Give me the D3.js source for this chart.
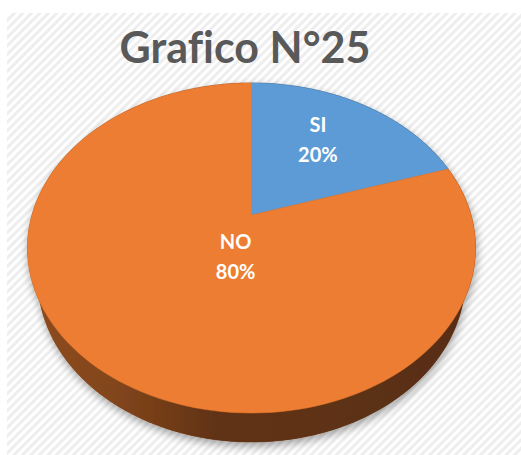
<!DOCTYPE html>
<html>
<head>
<meta charset="utf-8">
<script src="https://cdn.jsdelivr.net/npm/d3@7"></script>
<style>
  html, body { margin: 0; padding: 0; background: #ffffff; }
  svg { display: block; }
  text { font-variant-ligatures: none; font-feature-settings: "liga" 0; }
</style>
</head>
<body>
<div id="chart"></div>
<script>
// ---- data ----
const title = "Grafico N°25";
const categories = ["SI", "NO"];
const values = [20, 80];
const percentLabels = ["20%", "80%"];
const colors = ["#5B9BD5", "#ED7D31"];

// ---- layout ----
const W = 521, H = 455;
const plot = { x: 7, y: 13 };
const cx = 251.5, cy = 215;         // projected pie centre
const persp = { f: 759.5, s: 0.7217, c: 0.692, D: 3.46, t: 0.222 };
// label anchor placement (angle shift in degrees, radial fraction)
const labelPlace = [{ shift: -3.9, r: 0.63 }, { shift: -20.4, r: 0.256 }];

function proj(u, w, h) {
  const yc = w * persp.s - h * persp.c;
  const d = persp.D - w * persp.c - h * persp.s;
  return [cx + persp.f * u / d, cy + persp.f * yc / d];
}
function rim(theta, h, r = 1) { return proj(r * Math.sin(theta), -r * Math.cos(theta), h); }

const svg = d3.select("#chart").append("svg").attr("width", W).attr("height", H);
const defs = svg.append("defs");

// striped background
const pat = defs.append("pattern").attr("id", "stripes")
  .attr("patternUnits", "userSpaceOnUse").attr("width", 6).attr("height", 6)
  .attr("patternTransform", "rotate(45)");
pat.append("rect").attr("width", 6).attr("height", 6).attr("fill", "#ffffff");
pat.append("rect").attr("width", 3).attr("height", 6).attr("fill", "#eeeeee");
svg.append("rect").attr("x", plot.x).attr("y", plot.y)
  .attr("width", W - plot.x).attr("height", H - plot.y).attr("fill", "url(#stripes)");

// shadow
const filt = defs.append("filter").attr("id", "shadow")
  .attr("x", "-10%").attr("y", "-10%").attr("width", "120%").attr("height", "130%");
filt.append("feDropShadow").attr("dx", 1).attr("dy", 4).attr("stdDeviation", 4)
  .attr("flood-color", "#000").attr("flood-opacity", 0.35);

const pie = d3.pie().sort(null).value(d => d)(values);
const line = d3.line();
const N = 180;

// side gradients per slice
pie.forEach((p, i) => {
  const base = d3.color(colors[i]);
  const g = defs.append("linearGradient").attr("id", "side" + i)
    .attr("gradientUnits", "userSpaceOnUse")
    .attr("x1", 27).attr("x2", 476).attr("y1", 0).attr("y2", 0);
  const mult = k => { const c = d3.rgb(base); return d3.rgb(c.r * k, c.g * k, c.b * k).formatHex(); };
  g.append("stop").attr("offset", "0%").attr("stop-color", mult(0.6));
  g.append("stop").attr("offset", "20%").attr("stop-color", mult(0.55));
  g.append("stop").attr("offset", "42%").attr("stop-color", mult(0.41));
  g.append("stop").attr("offset", "100%").attr("stop-color", mult(0.37));
});

const pieG = svg.append("g").attr("filter", "url(#shadow)");
const t = persp.t;

// bottom disc and sides
pie.forEach((p, i) => {
  const n = Math.max(2, Math.ceil(N * (p.endAngle - p.startAngle) / (2 * Math.PI)));
  const angs = d3.range(n + 1).map(k => p.startAngle + (p.endAngle - p.startAngle) * k / n);
  pieG.append("path").attr("d", line(angs.map(a => rim(a, -t)).concat([proj(0, 0, -t)])) + "Z")
    .attr("fill", `url(#side${i})`);
  const side = angs.map(a => rim(a, 0)).concat(angs.slice().reverse().map(a => rim(a, -t)));
  pieG.append("path").attr("d", line(side) + "Z").attr("fill", `url(#side${i})`)
    .attr("stroke", `url(#side${i})`).attr("stroke-width", 0.5);
});

// top faces
pie.forEach((p, i) => {
  const n = Math.max(2, Math.ceil(N * (p.endAngle - p.startAngle) / (2 * Math.PI)));
  const angs = d3.range(n + 1).map(k => p.startAngle + (p.endAngle - p.startAngle) * k / n);
  const pts = [proj(0, 0, 0)].concat(angs.map(a => rim(a, 0)));
  pieG.append("path").attr("d", line(pts) + "Z").attr("fill", colors[i])
    .attr("stroke", colors[i]).attr("stroke-width", 0.5);
});

// title
svg.append("text").attr("x", 245).attr("y", 63).attr("text-anchor", "middle")
  .attr("font-family", "Lato, 'Open Sans', sans-serif").attr("font-weight", "bold")
  .attr("font-size", 43).attr("fill", "#595959").text(title);

// labels
pie.forEach((p, i) => {
  const mid = (p.startAngle + p.endAngle) / 2 + labelPlace[i].shift * Math.PI / 180;
  const [lx, ly] = rim(mid, 0, labelPlace[i].r);
  const tx = svg.append("text").attr("text-anchor", "middle")
    .attr("font-family", "Lato, 'Open Sans', sans-serif").attr("font-weight", "bold")
    .attr("font-size", 20).attr("fill", "#ffffff");
  tx.append("tspan").attr("x", lx).attr("y", ly - 7).text(categories[i]);
  tx.append("tspan").attr("x", lx).attr("y", ly + 23).text(percentLabels[i]);
});
</script>
</body>
</html>
